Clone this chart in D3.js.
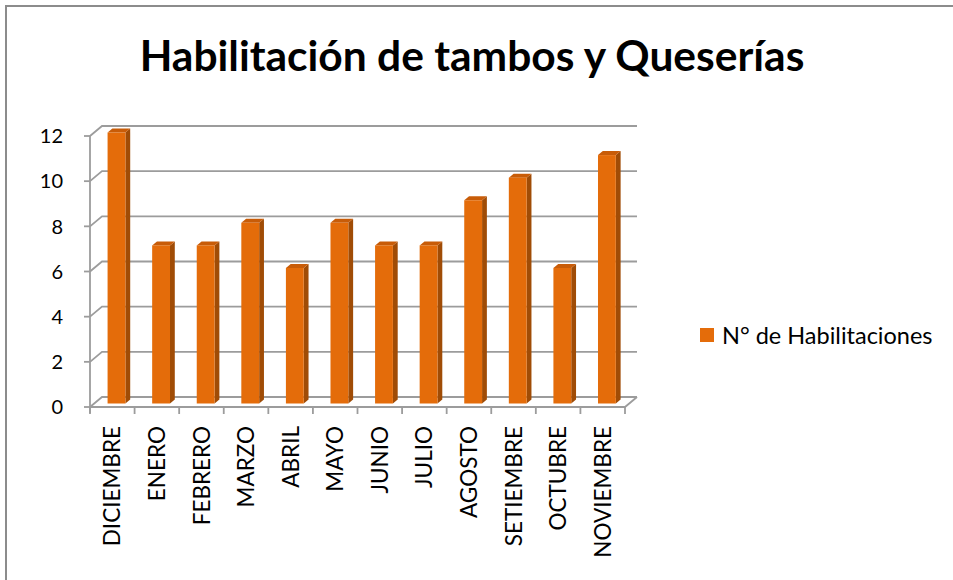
<!DOCTYPE html>
<html>
<head>
<meta charset="utf-8">
<script src="https://cdn.jsdelivr.net/npm/d3@7"></script>
<style>
  body { margin: 0; background: #fff; }
  svg { display: block; }
  text { font-family: Lato, "Open Sans", sans-serif; fill: #000; }
</style>
</head>
<body>
<div id="chart"></div>
<script>
// data
const months = ["DICIEMBRE", "ENERO", "FEBRERO", "MARZO", "ABRIL", "MAYO",
  "JUNIO", "JULIO", "AGOSTO", "SETIEMBRE", "OCTUBRE", "NOVIEMBRE"];
const habilitaciones = [12, 7, 7, 8, 6, 8, 7, 7, 9, 10, 6, 11];
const yTicks = [0, 2, 4, 6, 8, 10, 12];
const seriesName = "N° de Habilitaciones";
const title = "Habilitación de tambos y Queserías";

const width = 953, height = 580;
const margin = { left: 90, right: 328, top: 136, bottom: 173 };
const depth = { dx: 12, dy: -10 };   // 3d offset of the back wall

const svg = d3.select("#chart").append("svg")
  .attr("width", width)
  .attr("height", height);

// frame (only left and top edges are visible)
svg.append("path")
  .attr("d", `M6,${height} V6 H${width}`)
  .attr("fill", "none")
  .attr("stroke", "#8c8c8c")
  .attr("stroke-width", 2);

const x = d3.scaleBand()
  .domain(months)
  .range([margin.left, width - margin.right]);

const y = d3.scaleLinear()
  .domain([0, 12])
  .range([height - margin.bottom, margin.top]);

const grid = "#9c9c9c";
const g = svg.append("g");

// back wall gridlines
g.selectAll(".grid")
  .data(yTicks)
  .enter().append("path")
  .attr("class", "grid")
  .attr("d", d => `M${x.range()[0]},${y(d)} l${depth.dx},${depth.dy} H${x.range()[1] + depth.dx}`)
  .attr("fill", "none")
  .attr("stroke", grid)
  .attr("stroke-width", 1.8);

// floor front edge + right side
g.append("path")
  .attr("d", `M${x.range()[0]},${y(0)} H${x.range()[1]} l${depth.dx},${depth.dy}`)
  .attr("fill", "none")
  .attr("stroke", grid)
  .attr("stroke-width", 1.8);

// front vertical axis
g.append("line")
  .attr("x1", x.range()[0]).attr("x2", x.range()[0])
  .attr("y1", y(0) + 6).attr("y2", y(12))
  .attr("stroke", grid)
  .attr("stroke-width", 1.8);

g.selectAll(".ytick")
  .data(yTicks)
  .enter().append("line")
  .attr("x1", x.range()[0] - 6).attr("x2", x.range()[0])
  .attr("y1", d => y(d)).attr("y2", d => y(d))
  .attr("stroke", grid)
  .attr("stroke-width", 1.8);

// x ticks at band boundaries
const bounds = months.map(m => x(m)).concat([x.range()[1]]);
g.selectAll(".xtick")
  .data(bounds)
  .enter().append("line")
  .attr("x1", d => d).attr("x2", d => d)
  .attr("y1", y(0)).attr("y2", y(0) + 7)
  .attr("stroke", grid)
  .attr("stroke-width", 1.8);

// y labels
svg.selectAll(".ylab")
  .data(yTicks)
  .enter().append("text")
  .attr("x", 63)
  .attr("y", d => y(d))
  .attr("dy", "0.36em")
  .attr("text-anchor", "end")
  .style("font-size", "20px")
  .text(d => d);

// bars (3d columns)
const dz = 0.35, bd = 0.4;
const bw = x.bandwidth() * 0.4;
const ox = depth.dx * dz, oy = depth.dy * dz;
const sx = depth.dx * bd, sy = depth.dy * bd;

const bars = svg.selectAll(".bar")
  .data(habilitaciones.map((v, i) => ({ m: months[i], v: v })))
  .enter().append("g")
  .attr("class", "bar");

bars.append("path") // side
  .attr("d", d => {
    const x1 = x(d.m) + x.bandwidth() * 0.3 + ox + bw;
    return `M${x1},${y(0) + oy} V${y(d.v) + oy} l${sx},${sy} V${y(0) + oy + sy} Z`;
  })
  .attr("fill", "#a04c06");

bars.append("path") // top
  .attr("d", d => {
    const x0 = x(d.m) + x.bandwidth() * 0.3 + ox;
    const yt = y(d.v) + oy;
    return `M${x0},${yt} l${sx},${sy} h${bw} l${-sx},${-sy} Z`;
  })
  .attr("fill", "#c85c08");

bars.append("rect") // front
  .attr("x", d => x(d.m) + x.bandwidth() * 0.3 + ox)
  .attr("y", d => y(d.v) + oy)
  .attr("width", bw)
  .attr("height", d => y(0) - y(d.v))
  .attr("fill", "#e46c0a");

// x labels
svg.selectAll(".xlab")
  .data(months)
  .enter().append("text")
  .attr("transform", d => `translate(${x(d) + x.bandwidth() / 2},${y(0) + 19}) rotate(-90)`)
  .attr("dy", "0.36em")
  .attr("text-anchor", "end")
  .style("font-size", "22.5px")
  .text(d => d);

// title
svg.append("text")
  .attr("x", 472)
  .attr("y", 71)
  .attr("text-anchor", "middle")
  .style("font-size", "42.5px")
  .style("font-weight", "bold")
  .text(title);

// legend
const lg = svg.append("g").attr("transform", "translate(700,328)");
lg.append("rect")
  .attr("width", 14).attr("height", 14)
  .attr("fill", "#e46c0a");
lg.append("text")
  .attr("x", 22).attr("y", 15.5)
  .style("font-size", "23.5px")
  .text(seriesName);
</script>
</body>
</html>
